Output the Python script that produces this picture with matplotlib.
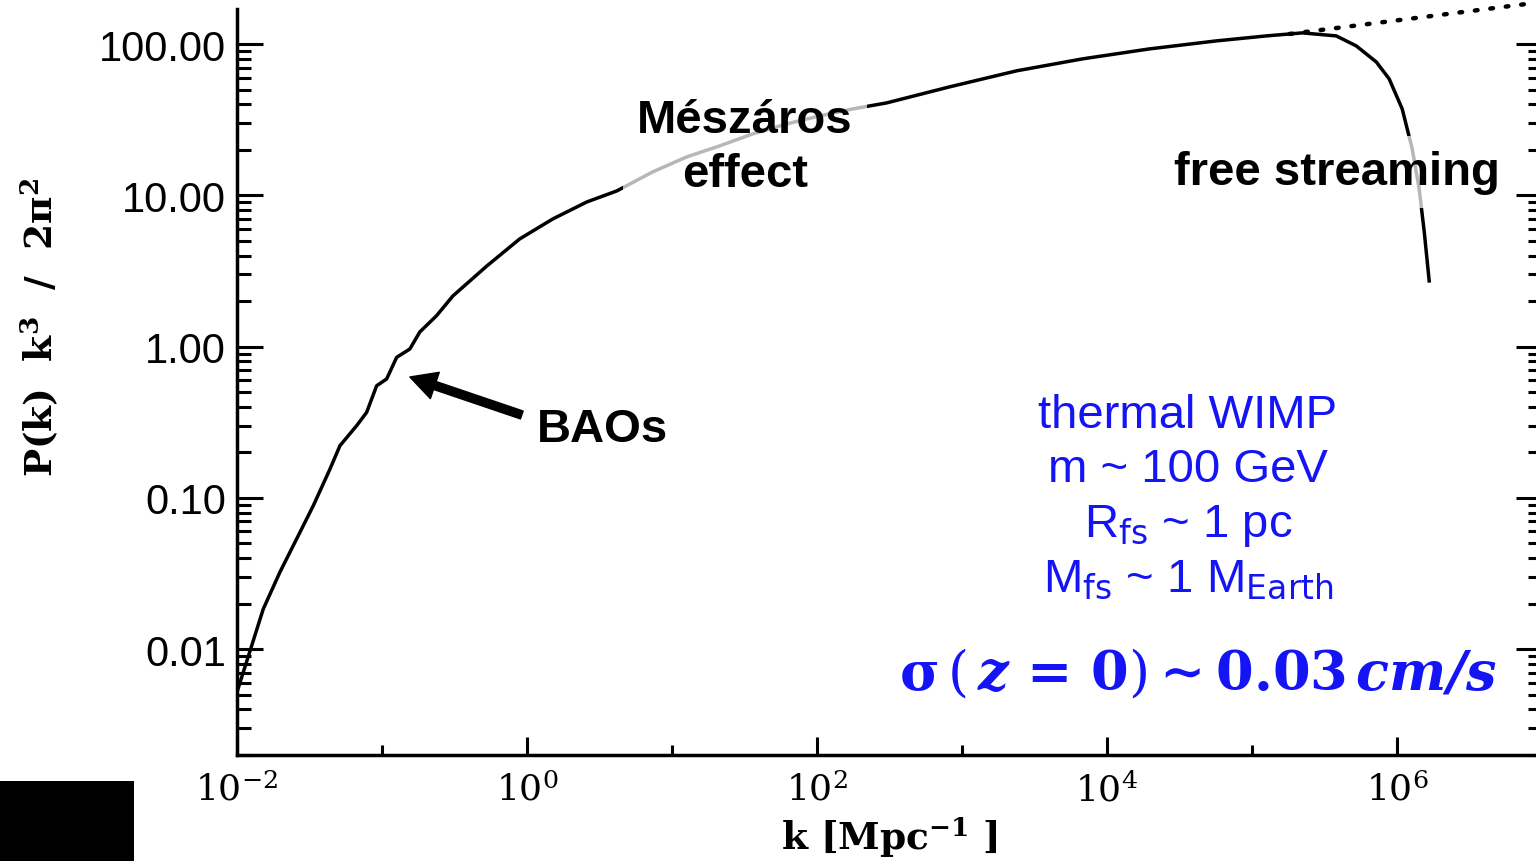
import numpy as np
import matplotlib
matplotlib.use("Agg")
import matplotlib.pyplot as plt
from matplotlib.patches import Rectangle

plt.rcParams['mathtext.fontset'] = 'dejavuserif'

# power spectrum (log10 k, log10 P k^3/2pi^2)
log_k = np.array([-2.000, -1.899, -1.819, -1.704, -1.589, -1.474, -1.359, -1.290,
                  -1.175, -1.106, -1.037, -0.968, -0.899, -0.808, -0.739, -0.624,
                  -0.511, -0.277, -0.050, 0.178, 0.412, 0.619, 0.867, 1.101,
                  1.329, 1.556, 1.790, 2.018, 2.245, 2.480, 2.914, 3.376,
                  3.830, 4.292, 4.754, 5.099, 5.347, 5.581, 5.719, 5.857,
                  5.946, 6.036, 6.105, 6.153, 6.188, 6.222])
log_p = np.array([-2.284, -1.978, -1.735, -1.491, -1.272, -1.052, -0.810, -0.655,
                  -0.523, -0.435, -0.259, -0.214, -0.071, -0.016, 0.097, 0.204,
                  0.335, 0.533, 0.712, 0.844, 0.956, 1.029, 1.155, 1.254,
                  1.327, 1.406, 1.472, 1.525, 1.571, 1.611, 1.717, 1.823,
                  1.902, 1.968, 2.021, 2.054, 2.074, 2.054, 1.988, 1.882,
                  1.770, 1.571, 1.307, 1.042, 0.758, 0.434])

# no-cutoff continuation (dotted)
log_k_nocut = np.array([5.26, 6.95])
log_p_nocut = np.array([2.067, 2.272])

xtick_vals = [1e-2, 1e0, 1e2, 1e4, 1e6]
xtick_labels = [r'$10^{-2}$', r'$10^{0}$', r'$10^{2}$', r'$10^{4}$', r'$10^{6}$']
xminor_vals = [1e-1, 1e1, 1e3, 1e5]
ytick_vals = [0.01, 0.1, 1.0, 10.0, 100.0]
ytick_labels = ['0.01', '0.10', '1.00', '10.00', '100.00']

W, H = 1536, 862
fig = plt.figure(figsize=(W / 100, H / 100), dpi=100)
ax = fig.add_axes([237 / W, 106 / H, 1305 / W, 756 / H])

ax.plot(10 ** log_k, 10 ** log_p, color='black', lw=2.5, zorder=3)
ax.plot(10 ** log_k_nocut, 10 ** log_p_nocut, color='black', lw=3.2,
        linestyle=(0, (0.6, 2.9)), dash_capstyle='round', zorder=2, clip_on=False)

ax.set_xscale('log')
ax.set_yscale('log')
ax.set_xlim(1e-2, 1e7)

ax.set_xticks(xtick_vals, labels=xtick_labels, fontsize=26)
ax.set_xticks(xminor_vals, minor=True)
ax.set_xticklabels([], minor=True)
ax.set_yticks(ytick_vals, labels=ytick_labels, fontsize=30,
              fontfamily='Liberation Sans')
yminor = [m * 10.0 ** e for e in range(-3, 3) for m in range(2, 10)]
ax.set_yticks(yminor, minor=True)
ax.set_yticklabels([], minor=True)
ax.set_ylim(10 ** -2.70, 10 ** 2.298)

ax.tick_params(axis='y', which='major', direction='in', length=19, width=2.2,
               left=True, right=True, pad=8)
ax.tick_params(axis='y', which='minor', direction='in', length=10, width=2.2,
               left=True, right=True)
ax.tick_params(axis='x', which='major', direction='in', length=13, width=2.2,
               top=False, pad=12)
ax.tick_params(axis='x', which='minor', direction='in', length=7, width=2.2,
               top=False)

ax.spines['top'].set_visible(False)
for s in ['left', 'bottom', 'right']:
    ax.spines[s].set_linewidth(2.5)
ax.spines['left'].set_bounds(10 ** -2.70, 10 ** 2.23)


def px(x, y):
    return x / W, 1 - y / H


fig.text(*px(889, 838), r'k [Mpc$^{\mathbf{-1}}$ ]', ha='center', va='center',
         fontsize=27, fontweight='bold', fontfamily='DejaVu Serif')
fig.text(*px(40, 328), r'P(k)  k$^{\mathbf{3}}$  /  2$\mathbf{\pi}^{\mathbf{2}}$',
         ha='center', va='center', rotation=90, fontsize=27,
         fontweight='bold', fontfamily='DejaVu Serif')

box = dict(boxstyle='square,pad=0.3', facecolor='white', edgecolor='none', alpha=0.72)
fig.text(*px(745, 187), 'Mészáros\neffect', ha='center', va='baseline',
         fontsize=34, fontweight='bold', fontfamily='Liberation Sans',
         linespacing=1.3, bbox=box)
fig.text(*px(1337, 185), 'free streaming', ha='center', va='baseline',
         fontsize=34, fontweight='bold', fontfamily='Liberation Sans', bbox=box)
fig.text(*px(603, 442), 'BAOs', ha='center', va='baseline',
         fontsize=34, fontweight='bold', fontfamily='Liberation Sans')

ax.annotate('', xy=(10 ** -0.808, 10 ** -0.201), xytext=(10 ** -0.036, 10 ** -0.452),
            arrowprops=dict(facecolor='black', edgecolor='black', width=6,
                            headwidth=20, headlength=19, shrink=0))

blue = '#1414f5'
wimp_lines = ['thermal WIMP', 'm ~ 100 GeV',
              r'R$_{\mathsf{fs}}$ ~ 1 pc', r'M$_{\mathsf{fs}}$ ~ 1 M$_{\mathsf{Earth}}$']
for i, line in enumerate(wimp_lines):
    fig.text(*px(1188, 428 + 54.5 * i), line, ha='center', va='baseline',
             fontsize=34, color=blue, fontfamily='Liberation Sans')

fig.text(*px(1198, 690),
         r'$\mathbf{\sigma}\,(\,\mathbfit{z}\,\mathbf{=}\,\mathbf{0})\mathbf{\sim0.03}\,\mathbfit{cm/s}$',
         ha='center', va='baseline', fontsize=39, color=blue)

fig.add_artist(Rectangle((0, 0), 134 / W, 80 / H, transform=fig.transFigure,
                         facecolor='black', edgecolor='none'))

fig.savefig('out.png', dpi=100)
